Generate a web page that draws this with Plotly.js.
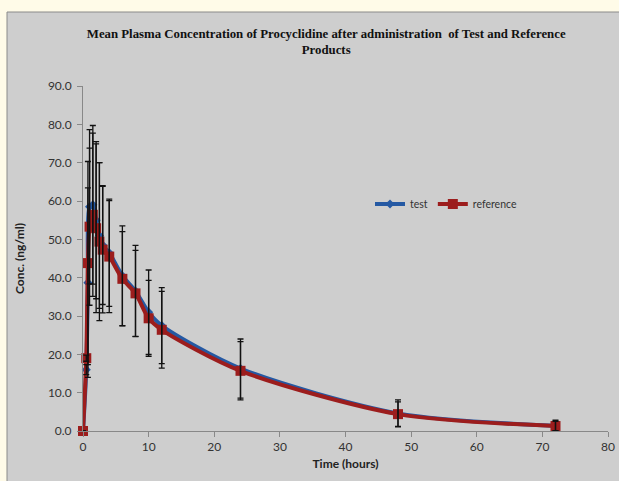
<!DOCTYPE html>
<html>
<head>
<meta charset="utf-8">
<script src="https://cdn.plot.ly/plotly-3.0.1.min.js"></script>
<style>html,body{margin:0;padding:0;}#chart{width:619px;height:481px;}</style>
</head>
<body>
<div id="chart"></div>
<script>
// Data
var timeHours = [0, 0.5, 0.75, 1, 1.5, 2, 2.5, 3, 4, 6, 8, 10, 12, 24, 48, 72];
var testMean  = [0, 16.0, 38.7, 58.5, 59.0, 55.0, 51.0, 48.5, 46.5, 40.5, 36.5, 31.0, 27.5, 16.3, 4.6, 1.4];
var testSD    = [0, 1.3, 24.7, 20.1, 20.7, 20.5, 19.0, 15.5, 14.0, 13.0, 11.9, 11.0, 9.9, 7.7, 3.5, 1.4];
var refMean   = [0, 19.0, 43.8, 53.3, 56.4, 52.9, 49.4, 47.3, 45.5, 39.7, 35.9, 29.4, 26.4, 15.7, 4.4, 1.3];
var refSD     = [0, 0.8, 26.5, 20.5, 21.3, 22.0, 20.6, 16.5, 14.6, 12.3, 11.2, 9.9, 10.0, 7.6, 3.2, 1.2];
var seriesNames = ['test', 'reference'];
var yTickVals = [0, 10, 20, 30, 40, 50, 60, 70, 80, 90];
var xTickVals = [0, 10, 20, 30, 40, 50, 60, 70, 80];

var blue = '#2559a3', red = '#9c1d1d';
var errStyle = function(arr){ return {type:'data', array:arr, visible:true, color:'#111', thickness:1.3, width:3}; };

var traces = [
  {x: timeHours, y: testMean, name: seriesNames[0], mode: 'lines+markers', cliponaxis: false,
   line: {color: blue, width: 4, shape: 'spline', smoothing: 0.8},
   marker: {symbol: 'diamond', size: 7, color: blue}},
  {x: timeHours, y: refMean, name: seriesNames[1], mode: 'lines+markers', cliponaxis: false,
   line: {color: red, width: 4, shape: 'spline', smoothing: 0.8},
   marker: {symbol: 'square', size: 10, color: red}},
  {x: timeHours, y: testMean, mode: 'markers', showlegend: false, hoverinfo: 'skip', cliponaxis: false,
   marker: {size: 1, color: 'rgba(0,0,0,0)'}, error_y: errStyle(testSD)},
  {x: timeHours, y: refMean, mode: 'markers', showlegend: false, hoverinfo: 'skip', cliponaxis: false,
   marker: {size: 1, color: 'rgba(0,0,0,0)'}, error_y: errStyle(refSD)}
];

var L = 83, R = 11, T = 86, B = 50;
var pw = 619 - L - R, ph = 481 - T - B;

var layout = {
  width: 619, height: 481,
  margin: {l: L, r: R, t: T, b: B, pad: 0},
  paper_bgcolor: '#fffbe8',
  plot_bgcolor: 'rgba(0,0,0,0)',
  font: {family: 'Lato, "Open Sans", sans-serif', color: '#333', size: 12},
  title: {text: '<b>Mean Plasma Concentration of Procyclidine after administration  of Test and Reference<br>Products</b>',
          font: {family: '"Liberation Serif", "Times New Roman", serif', size: 12.8, color: '#111'},
          x: 0.527, xanchor: 'center', y: 0.922, yanchor: 'top'},
  shapes: [{type: 'rect', xref: 'paper', yref: 'paper', layer: 'below',
            x0: (7 - L) / pw, x1: (625 - L) / pw, y0: -(B + 10) / ph, y1: (481 - B - 12) / ph,
            fillcolor: '#cecece', line: {color: '#8a8a8a', width: 1}}],
  xaxis: {range: [0, 80], tickvals: xTickVals, ticks: 'outside', ticklen: 5, tickcolor: '#888',
          showline: true, linecolor: '#888', linewidth: 1, showgrid: false, zeroline: false,
          tickfont: {size: 12, color: '#333'},
          title: {text: '<b>Time (hours)</b>', font: {size: 12, color: '#222'}, standoff: 6}},
  yaxis: {range: [0, 90], tickvals: yTickVals, tickformat: '.1f', ticks: 'outside', ticklen: 5, tickcolor: '#888',
          ticklabelstandoff: 3,
          showline: true, linecolor: '#888', linewidth: 1, showgrid: false, zeroline: false,
          tickfont: {size: 12, color: '#333'},
          title: {text: '<b>Conc. (ng/ml)</b>', font: {size: 12, color: '#222'}, standoff: 20}},
  legend: {orientation: 'h', x: (370 - L) / pw, y: (431 - 204) / ph, yanchor: 'middle', xanchor: 'left',
           bgcolor: 'rgba(0,0,0,0)', font: {size: 10.5, color: '#333'}, itemwidth: 30, tracegroupgap: 0},
  showlegend: true
};

Plotly.newPlot('chart', traces, layout, {displayModeBar: false, staticPlot: true});
</script>
</body>
</html>
